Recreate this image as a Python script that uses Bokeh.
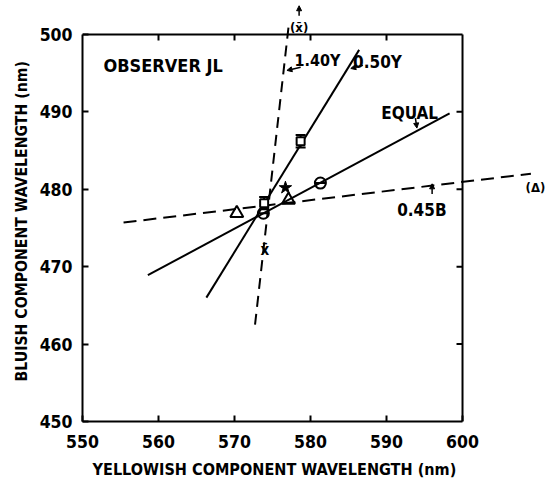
from bokeh.plotting import figure
from bokeh.models import (FixedTicker, Label, Arrow, NormalHead, Whisker, TeeHead,
                          ColumnDataSource, Title)
from bokeh.embed import file_html
from bokeh.resources import INLINE
from bokeh.core.properties import value

FONT = "'DejaVu Sans Condensed', 'Liberation Sans', sans-serif"

# ---- data ----
x_ticks = [550, 560, 570, 580, 590, 600]
y_ticks = [450, 460, 470, 480, 490, 500]

equal_x = [558.6, 598.3]
equal_y = [468.9, 489.8]
y050_x = [566.3, 586.4]
y050_y = [466.0, 498.0]
y140_x = [572.7, 577.1]
y140_y = [462.5, 500.9]
b045_x = [555.4, 609.0]
b045_y = [475.7, 482.0]

tri_x = [570.3, 577.1]
tri_y = [476.9, 478.6]
circ_x = [573.8, 581.3]
circ_y = [476.9, 480.8]
sq_x = [573.9, 578.7]
sq_y = [478.2, 486.2]
sq_err = [0.8, 0.8]
star_x = [576.7]
star_y = [480.2]
xbar_x = [574.0]
xbar_y = [472.1]

# ---- figure ----
p = figure(width=559, height=485, x_range=(550, 611.05), y_range=(450, 504.38),
           output_backend="svg", toolbar_location=None,
           min_border_left=82, min_border_right=13, min_border_top=0, min_border_bottom=63)
p.outline_line_color = None
p.grid.visible = False
p.background_fill_color = "white"
p.border_fill_color = "white"

for ax, ticks in ((p.xaxis[0], x_ticks), (p.yaxis[0], y_ticks)):
    ax.ticker = FixedTicker(ticks=ticks)
    ax.bounds = (ticks[0], ticks[-1])
    ax.major_tick_in = 6
    ax.major_tick_out = 0
    ax.minor_tick_line_color = None
    ax.axis_line_width = 2
    ax.major_tick_line_width = 2
    ax.major_label_text_font = FONT
    ax.major_label_text_font_style = "bold"
    ax.major_label_text_font_size = "17.5px"
    ax.major_label_text_color = "black"

p.xaxis.major_label_standoff = 13
p.yaxis.major_label_standoff = 10

# axis titles (offset so they centre on the 550-600 / 450-500 box)
p.add_layout(Title(text="YELLOWISH COMPONENT WAVELENGTH (nm)", align="left", offset=10,
                   standoff=14, text_font=FONT, text_font_style="bold",
                   text_font_size="16.1px", text_color="black"), "below")
p.add_layout(Title(text="BLUISH COMPONENT WAVELENGTH (nm)", align="left", offset=40,
                   standoff=12, text_font=FONT, text_font_style="bold",
                   text_font_size="15.7px", text_color="black"), "left")

# top and right frame edges with inward ticks
x0, x1 = x_ticks[0], x_ticks[-1]
y0, y1 = y_ticks[0], y_ticks[-1]
p.segment(x0=[x0, x1], y0=[y1, y0], x1=[x1, x1], y1=[y1, y1], line_width=2, line_color="black")
tly = 6 / 7.76
tlx = 6 / 7.6
p.segment(x0=x_ticks[1:-1], y0=[y1] * 4, x1=x_ticks[1:-1], y1=[y1 - tly] * 4,
          line_width=2, line_color="black")
p.segment(x0=[x1] * 4, y0=y_ticks[1:-1], x1=[x1 - tlx] * 4, y1=y_ticks[1:-1],
          line_width=2, line_color="black")

# lines
p.line(equal_x, equal_y, line_width=2, line_color="black")
p.line(y050_x, y050_y, line_width=2, line_color="black")
p.line(y140_x, y140_y, line_width=2, line_color="black", line_dash="11 7")
p.line(b045_x, b045_y, line_width=2, line_color="black", line_dash="13 7")

# markers
p.scatter(tri_x, tri_y, marker="triangle", size=13, fill_color=None, line_color="black", line_width=2)
p.scatter(circ_x, circ_y, marker="circle", size=11, fill_color=None, line_color="black", line_width=2)
p.scatter(circ_x, circ_y, marker="dash", size=11, line_color="black", line_width=2)
sq_src = ColumnDataSource(dict(x=sq_x, lo=[y - e for y, e in zip(sq_y, sq_err)],
                               hi=[y + e for y, e in zip(sq_y, sq_err)]))
p.add_layout(Whisker(source=sq_src, base="x", lower="lo", upper="hi", dimension="height",
                     line_width=2, line_color="black",
                     lower_head=TeeHead(size=10, line_width=2, line_color="black"),
                     upper_head=TeeHead(size=10, line_width=2, line_color="black")))
p.scatter(sq_x, sq_y, marker="square", size=8, fill_color="white", line_color="black", line_width=2)
p.scatter(star_x, star_y, marker="star", size=13, fill_color="black", line_color="black")
p.text(xbar_x, xbar_y, text=["x\u0304"], text_align="center", text_baseline="middle",
       text_font=value(FONT), text_font_style="bold", text_font_size="15px", text_color="black")

# labels
def lab(x, y, t, size="17px", align="left"):
    p.add_layout(Label(x=x, y=y, text=t, text_font=FONT, text_font_style="bold",
                       text_font_size=size, text_color="black", text_align=align,
                       text_baseline="alphabetic"))

lab(552.76, 496.0, "OBSERVER JL", "18px")
lab(577.9, 496.6, "1.40Y", "16px")
lab(585.6, 496.5, "0.50Y")
lab(589.3, 489.9, "EQUAL")
lab(591.4, 477.3, "0.45B")
lab(608.3, 480.2, "(\u0394)", "13px")
lab(578.5, 500.9, "(x\u0304)", "13px", "center")

def arr(xs, ys, xe, ye):
    p.add_layout(Arrow(x_start=xs, y_start=ys, x_end=xe, y_end=ye, line_width=1.5,
                       line_color="black",
                       end=NormalHead(size=5, fill_color="black", line_color="black")))

arr(578.7, 495.75, 576.9, 495.35)
arr(586.9, 496.0, 585.3, 495.6)
arr(593.8, 489.2, 594.0, 487.9)
arr(596.0, 479.4, 596.0, 480.7)
arr(578.5, 502.4, 578.5, 503.7)

open("out.html", "w").write(file_html(p, INLINE))
